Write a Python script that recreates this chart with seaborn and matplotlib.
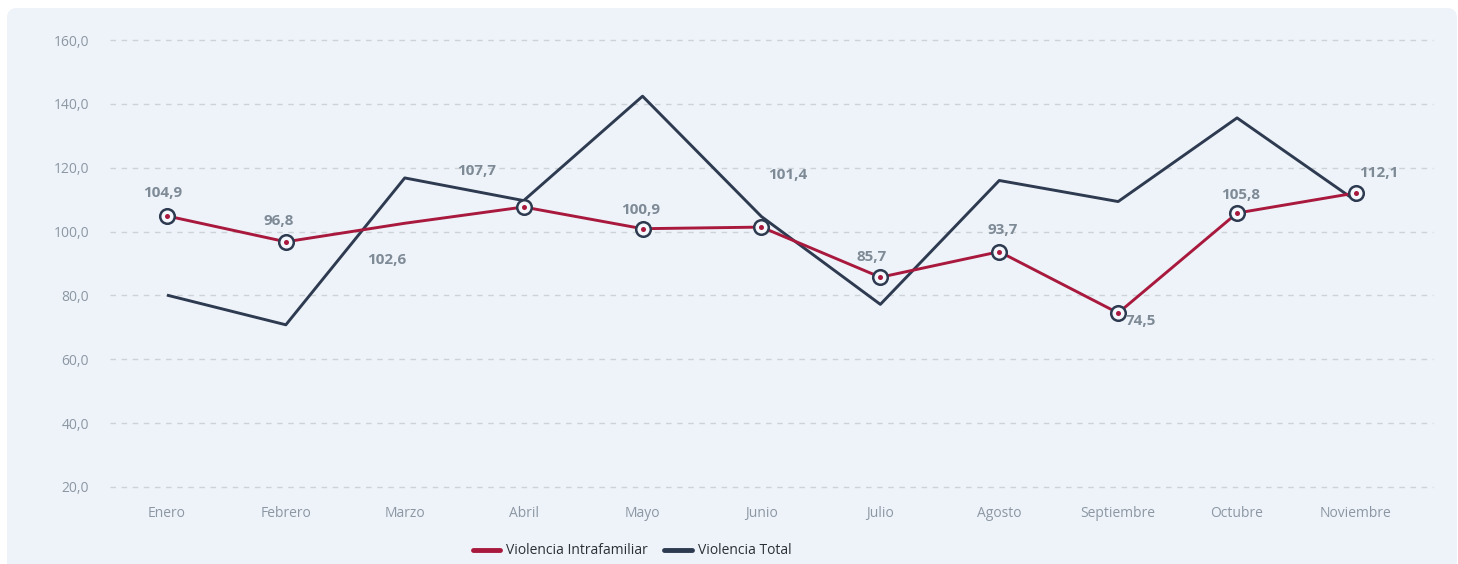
import numpy as np
import pandas as pd
import seaborn as sns
import matplotlib.pyplot as plt
from matplotlib.patches import FancyBboxPatch
from matplotlib.lines import Line2D
from matplotlib.ticker import FuncFormatter

meses = ['Enero', 'Febrero', 'Marzo', 'Abril', 'Mayo', 'Junio', 'Julio',
         'Agosto', 'Septiembre', 'Octubre', 'Noviembre']
intrafamiliar = [104.9, 96.8, 102.6, 107.7, 100.9, 101.4, 85.7, 93.7, 74.5, 105.8, 112.1]
total = [80.1, 70.8, 116.8, 109.7, 142.4, 104.7, 77.2, 116.0, 109.4, 135.6, 109.6]

# label offsets in pixels (dx, dy) from each red marker
offsets = [(-4, 23), (-7, 21), (-18, -37), (-47, 36), (-2, 19), (26, 52),
           (-9, 20), (3, 22), (23, -8), (4, 18), (23, 20)]

RED = '#a8193d'
NAVY = '#2d3a50'
CARD = '#eef3f9'
LABEL = '#7e8b97'
TICK = '#8c97a3'

sns.set_style('white')
plt.rcParams['font.family'] = ['Open Sans', 'DejaVu Sans']

fig = plt.figure(figsize=(14.58, 5.64), dpi=100)
fig.patch.set_facecolor('white')
card = FancyBboxPatch((0.07, -0.3), 14.50, 5.86, boxstyle='round,pad=0,rounding_size=0.1',
                      transform=fig.dpi_scale_trans, facecolor=CARD, edgecolor='none', zorder=-5)
fig.patches.append(card)

W, H = 1458, 564
ax = fig.add_axes([110 / W, (H - 487) / H, (1433 - 110) / W, (487 - 40) / H])
ax.set_facecolor('none')
ax.set_zorder(2)

df = pd.DataFrame({'x': np.arange(len(meses)), 'intra': intrafamiliar, 'total': total})

sns.lineplot(data=df, x='x', y='total', color=NAVY, linewidth=2.1, ax=ax,
             solid_joinstyle='round', solid_capstyle='butt', zorder=3)
sns.lineplot(data=df, x='x', y='intra', color=RED, linewidth=2.1, ax=ax, zorder=4)

mk = df.drop(index=2)
ax.scatter(mk['x'], mk['intra'], s=110, facecolor='#f4f7fb', edgecolor=NAVY, linewidth=1.8, zorder=5)
ax.scatter(mk['x'], mk['intra'], s=13, color=RED, linewidth=0, zorder=6)

for i, v in enumerate(intrafamiliar):
    dx, dy = offsets[i]
    ax.annotate(f'{v:.1f}'.replace('.', ','), (i, v), xytext=(dx, dy), textcoords='offset pixels',
                ha='center', va='center', fontsize=11, fontweight='bold', color=LABEL, zorder=7)

ax.set_xlim(-0.479, 10.648)
ax.set_ylim(20, 160)
ax.set_yticks(np.arange(20, 161, 20))
ax.yaxis.set_major_formatter(FuncFormatter(lambda v, p: f'{v:.1f}'.replace('.', ',')))
ax.set_xticks(df['x'])
ax.set_xticklabels(meses)
ax.tick_params(axis='both', length=0, labelsize=10, colors=TICK)
ax.tick_params(axis='x', pad=14)
ax.tick_params(axis='y', pad=15)
ax.set_xlabel('')
ax.set_ylabel('')
ax.grid(axis='y', color='#cdd2d6', linestyle=(0, (4, 4)), linewidth=1)
ax.grid(axis='x', visible=False)
for s in ax.spines.values():
    s.set_visible(False)
for gl in ax.get_ygridlines():
    gl.set_clip_on(False)

handles = [Line2D([], [], color=RED, linewidth=3.5, solid_capstyle='round'),
           Line2D([], [], color=NAVY, linewidth=3.5, solid_capstyle='round')]
fig.legend(handles, ['Violencia Intrafamiliar', 'Violencia Total'], loc='center',
           bbox_to_anchor=(632 / W, 13 / H), ncol=2, frameon=False, fontsize=10,
           handlelength=2.0, handletextpad=0.4, columnspacing=1.2, labelcolor='#2b2f36')

fig.savefig('out.png', dpi=100, facecolor='white')
